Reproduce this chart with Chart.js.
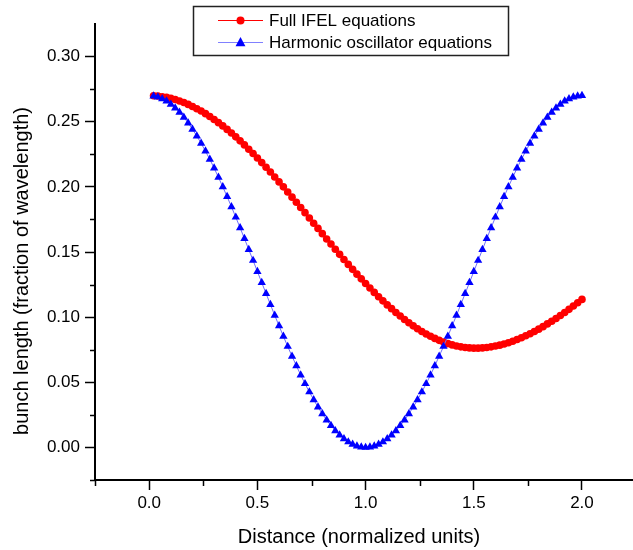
<!DOCTYPE html>
<html>
<head>
<meta charset="utf-8">
<script src="https://cdn.jsdelivr.net/npm/chart.js@4/dist/chart.umd.min.js"></script>
<style>
  html, body { margin: 0; padding: 0; background: #ffffff; }
  #wrap { width: 633px; height: 550px; }
</style>
</head>
<body>
<div id="wrap"><canvas id="c" width="633" height="550"></canvas></div>
<script>
const distance = [
  0.02,0.04,0.06,0.08,0.10,0.12,0.14,0.16,0.18,0.20,
  0.22,0.24,0.26,0.28,0.30,0.32,0.34,0.36,0.38,0.40,
  0.42,0.44,0.46,0.48,0.50,0.52,0.54,0.56,0.58,0.60,
  0.62,0.64,0.66,0.68,0.70,0.72,0.74,0.76,0.78,0.80,
  0.82,0.84,0.86,0.88,0.90,0.92,0.94,0.96,0.98,1.00,
  1.02,1.04,1.06,1.08,1.10,1.12,1.14,1.16,1.18,1.20,
  1.22,1.24,1.26,1.28,1.30,1.32,1.34,1.36,1.38,1.40,
  1.42,1.44,1.46,1.48,1.50,1.52,1.54,1.56,1.58,1.60,
  1.62,1.64,1.66,1.68,1.70,1.72,1.74,1.76,1.78,1.80,
  1.82,1.84,1.86,1.88,1.90,1.92,1.94,1.96,1.98,2.00
];
const fullIFEL = [
  0.2699,0.2697,0.2692,0.2687,0.2679,0.2670,0.2659,0.2647,0.2633,0.2617,
  0.2600,0.2582,0.2562,0.2540,0.2517,0.2493,0.2468,0.2441,0.2413,0.2384,
  0.2353,0.2322,0.2289,0.2256,0.2221,0.2186,0.2150,0.2114,0.2076,0.2038,
  0.2000,0.1961,0.1921,0.1882,0.1842,0.1802,0.1761,0.1721,0.1681,0.1641,
  0.1600,0.1561,0.1521,0.1482,0.1443,0.1405,0.1367,0.1330,0.1294,0.1258,
  0.1224,0.1190,0.1157,0.1125,0.1094,0.1065,0.1036,0.1009,0.0982,0.0957,
  0.0933,0.0911,0.0890,0.0871,0.0853,0.0837,0.0822,0.0809,0.0797,0.0787,
  0.0779,0.0772,0.0767,0.0764,0.0762,0.0762,0.0764,0.0767,0.0772,0.0778,
  0.0785,0.0794,0.0804,0.0815,0.0828,0.0842,0.0857,0.0873,0.0890,0.0908,
  0.0927,0.0948,0.0968,0.0990,0.1013,0.1036,0.1060,0.1085,0.1110,0.1136
];
const harmonic = [
  0.2697,0.2689,0.2676,0.2658,0.2634,0.2605,0.2572,0.2533,0.2490,0.2442,
  0.2390,0.2334,0.2274,0.2211,0.2144,0.2073,0.2000,0.1925,0.1847,0.1767,
  0.1686,0.1603,0.1519,0.1435,0.1350,0.1265,0.1181,0.1097,0.1014,0.0933,
  0.0853,0.0775,0.0700,0.0627,0.0556,0.0489,0.0426,0.0366,0.0310,0.0258,
  0.0210,0.0167,0.0128,0.0095,0.0066,0.0042,0.0024,0.0011,0.0003,0.0000,
  0.0003,0.0011,0.0024,0.0042,0.0066,0.0095,0.0128,0.0167,0.0210,0.0258,
  0.0310,0.0366,0.0426,0.0489,0.0556,0.0627,0.0700,0.0775,0.0853,0.0933,
  0.1014,0.1097,0.1181,0.1265,0.1350,0.1435,0.1519,0.1603,0.1686,0.1767,
  0.1847,0.1925,0.2000,0.2073,0.2144,0.2211,0.2274,0.2334,0.2390,0.2442,
  0.2490,0.2533,0.2572,0.2605,0.2634,0.2658,0.2676,0.2689,0.2697,0.2700
];
const xMajorTicks = [0.0, 0.5, 1.0, 1.5, 2.0];
const xMinorTicks = [-0.25, 0.25, 0.75, 1.25, 1.75];
const yMajorTicks = [0.00, 0.05, 0.10, 0.15, 0.20, 0.25, 0.30];
const yMinorTicks = [-0.025, 0.025, 0.075, 0.125, 0.175, 0.225, 0.275];
const seriesNames = ["Full IFEL equations", "Harmonic oscillator equations"];
const xTitle = "Distance (normalized units)";
const yTitle = "bunch length (fraction of wavelength)";

const FONT = '"Liberation Sans", Arial, Helvetica, sans-serif';

function pairs(xs, ys) { return xs.map((x, i) => ({ x: x, y: ys[i] })); }

const extras = {
  id: 'extras',
  afterDraw(chart) {
    const ctx = chart.ctx;
    const xs = chart.scales.x, ys = chart.scales.y;
    const area = chart.chartArea;
    ctx.save();
    // extend bottom axis line to the canvas edge
    ctx.strokeStyle = '#000';
    ctx.lineWidth = 2;
    ctx.beginPath(); ctx.moveTo(area.right - 1, area.bottom); ctx.lineTo(chart.width, area.bottom); ctx.stroke();
    ctx.lineWidth = 1.5;
    xMinorTicks.forEach(v => {
      const p = Math.round(xs.getPixelForValue(v)) + 0.5;
      ctx.beginPath(); ctx.moveTo(p, area.bottom); ctx.lineTo(p, area.bottom + 6); ctx.stroke();
    });
    yMinorTicks.forEach(v => {
      const p = Math.round(ys.getPixelForValue(v)) + 0.5;
      ctx.beginPath(); ctx.moveTo(area.left - 5, p); ctx.lineTo(area.left, p); ctx.stroke();
    });
    ctx.fillStyle = '#000';
    ctx.font = '20px ' + FONT;
    ctx.textAlign = 'center';
    ctx.textBaseline = 'middle';
    ctx.fillText(xTitle, 359, 537);
    ctx.save();
    ctx.translate(22, 271);
    ctx.rotate(-Math.PI / 2);
    ctx.fillText(yTitle, 0, 0);
    ctx.restore();
    const bx = 193.5, by = 6.5, bw = 315, bh = 49;
    ctx.fillStyle = '#fff';
    ctx.fillRect(bx, by, bw, bh);
    ctx.strokeStyle = '#222';
    ctx.lineWidth = 1.5;
    ctx.strokeRect(bx, by, bw, bh);
    const rows = [20, 42];
    const dsets = chart.data.datasets;
    ctx.font = '17px ' + FONT;
    ctx.textAlign = 'left';
    ctx.textBaseline = 'middle';
    dsets.forEach((ds, i) => {
      const yy = rows[i] + 0.5;
      ctx.strokeStyle = i === 1 ? 'rgb(128,128,255)' : ds.borderColor;
      ctx.lineWidth = 1.2;
      ctx.beginPath(); ctx.moveTo(218, yy); ctx.lineTo(263, yy); ctx.stroke();
      ctx.fillStyle = ds.pointBackgroundColor;
      if (ds.pointStyle === 'triangle') {
        const r = 5.5;
        ctx.beginPath();
        ctx.moveTo(240.5, yy - r);
        ctx.lineTo(240.5 + r * 0.9, yy + r * 0.7);
        ctx.lineTo(240.5 - r * 0.9, yy + r * 0.7);
        ctx.closePath(); ctx.fill();
      } else {
        ctx.beginPath(); ctx.arc(240.5, yy, 4, 0, Math.PI * 2); ctx.fill();
      }
      ctx.fillStyle = '#000';
      ctx.fillText(seriesNames[i], 269, rows[i] + 1);
    });
    ctx.restore();
  }
};

new Chart(document.getElementById('c'), {
  type: 'line',
  data: {
    datasets: [
      {
        label: seriesNames[0],
        data: pairs(distance, fullIFEL),
        borderColor: 'rgb(255,0,0)',
        backgroundColor: 'rgb(255,0,0)',
        pointBackgroundColor: 'rgb(255,0,0)',
        pointBorderColor: 'rgb(255,0,0)',
        pointBorderWidth: 0,
        pointStyle: 'circle',
        pointRadius: 3.8,
        borderWidth: 1,
        tension: 0,
        order: 1
      },
      {
        label: seriesNames[1],
        data: pairs(distance, harmonic),
        borderColor: 'rgb(110,110,255)',
        backgroundColor: 'rgb(0,0,255)',
        pointBackgroundColor: 'rgb(0,0,255)',
        pointBorderColor: 'rgb(0,0,255)',
        pointBorderWidth: 0,
        pointStyle: 'triangle',
        pointRadius: 4.8,
        borderWidth: 1,
        tension: 0,
        order: 0
      }
    ]
  },
  options: {
    responsive: false,
    animation: false,
    events: [],
    layout: { padding: { top: 24, left: 0, right: 0, bottom: 0 } },
    plugins: { legend: { display: false }, tooltip: { enabled: false }, title: { display: false } },
    scales: {
      x: {
        type: 'linear',
        min: -0.2506,
        max: 2.2136,
        afterBuildTicks: (s) => { s.ticks = xMajorTicks.map(v => ({ value: v })); },
        afterFit: (s) => { s.height = 70; },
        ticks: {
          color: '#000',
          font: { family: FONT, size: 17 },
          padding: 3,
          maxRotation: 0,
          autoSkip: false,
          callback: (v) => Number(v).toFixed(1)
        },
        grid: { display: true, drawOnChartArea: false, drawTicks: true, tickLength: 10, tickColor: '#000', tickWidth: 1.5 },
        border: { display: true, color: '#000', width: 2 }
      },
      y: {
        type: 'linear',
        min: -0.025,
        max: 0.325,
        afterBuildTicks: (s) => { s.ticks = yMajorTicks.map(v => ({ value: v })); },
        afterFit: (s) => { s.width = 95; },
        ticks: {
          color: '#000',
          font: { family: FONT, size: 17 },
          padding: 5,
          autoSkip: false,
          callback: (v) => Number(v).toFixed(2)
        },
        grid: { display: true, drawOnChartArea: false, drawTicks: true, tickLength: 10, tickColor: '#000', tickWidth: 1.5 },
        border: { display: true, color: '#000', width: 2 }
      }
    }
  },
  plugins: [extras]
});
</script>
</body>
</html>
